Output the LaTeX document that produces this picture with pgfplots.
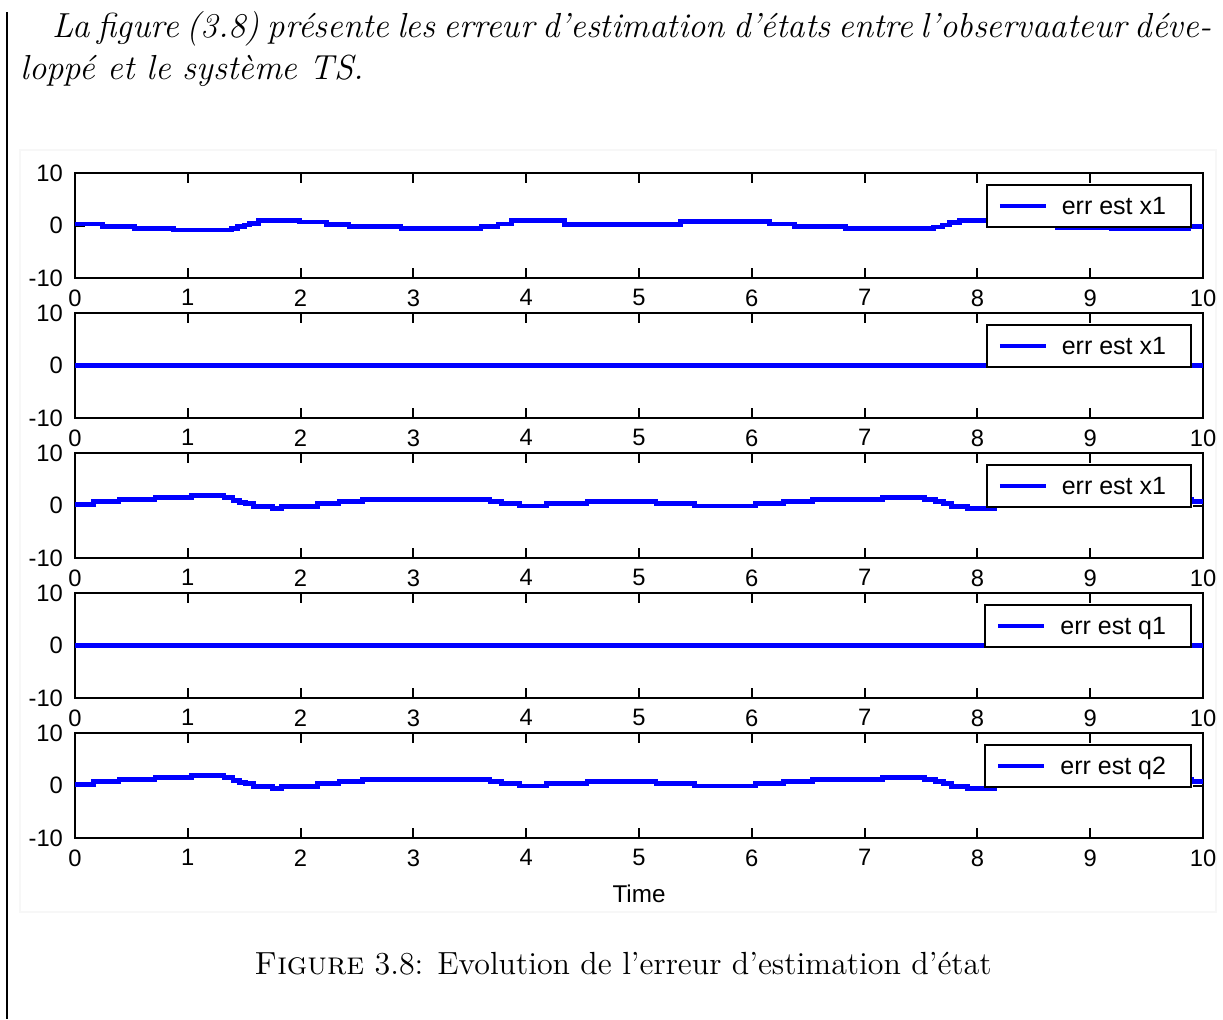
\documentclass[border=0pt]{standalone}
\usepackage{fontspec}
\usepackage{pgfplots}
\usepackage{pgfplotstable}
\pgfplotsset{compat=1.18}
\newfontfamily\mfont{Liberation Sans}

% estimation error, first state (x1)
\pgfplotstableread{
t v
0     0.29
0.245 -0.22
0.53  -0.54
0.874 -0.86
1.39  -0.54
1.44  -0.22
1.50  0.10
1.55  0.41
1.63  0.95
1.99  0.67
2.23  0.22
2.43  -0.22
2.89  -0.54
3.60  -0.16
3.75  0.29
3.87  0.92
4.34  0.13
5.37  0.73
6.16  0.29
6.38  -0.16
6.83  -0.54
7.61  -0.29
7.69  0.10
7.75  0.60
7.84  0.98
8.20  0.67
8.45  0.22
8.71  -0.35
9.19  -0.67
9.87  -0.22
10    -0.22
}\errA

% estimation error, third state
\pgfplotstableread{
t v
0     0.25
0.165 0.78
0.39  1.14
0.71  1.48
1.035 1.90
1.32  1.48
1.40  1.02
1.46  0.63
1.51  0.32
1.58  -0.12
1.75  -0.55
1.83  -0.12
2.15  0.32
2.34  0.78
2.55  1.14
3.68  0.78
3.78  0.32
3.94  -0.10
4.18  0.36
4.54  0.83
5.15  0.36
5.49  -0.10
6.03  0.36
6.28  0.83
6.54  1.14
7.16  1.52
7.53  1.14
7.63  0.76
7.70  0.32
7.77  -0.13
7.91  -0.60
8.15  0.80
8.45  1.14
9.50  1.10
9.90  0.80
10    0.80
}\errC

% estimation error, q2
\pgfplotstableread{
t v
0     0.25
0.165 0.78
0.39  1.14
0.71  1.48
1.035 1.90
1.32  1.48
1.40  1.02
1.46  0.63
1.51  0.32
1.58  -0.12
1.75  -0.55
1.83  -0.12
2.15  0.32
2.34  0.78
2.55  1.14
3.68  0.78
3.78  0.32
3.94  -0.10
4.18  0.36
4.54  0.83
5.15  0.36
5.49  -0.10
6.03  0.36
6.28  0.83
6.54  1.14
7.16  1.52
7.53  1.14
7.63  0.76
7.70  0.32
7.77  -0.13
7.91  -0.60
8.15  0.80
8.45  1.14
9.50  1.10
9.90  0.80
10    0.80
}\errQ

\pgfplotsset{
  errpanel/.style={
    scale only axis, width=451.2pt, height=42pt, anchor=north west,
    xmin=0, xmax=10, ymin=-10, ymax=10,
    xtick={0,1,...,10}, ytick={-10,0,10},
    xticklabels={0,1,2,3,4,5,6,7,8,9,10},
    yticklabels={-10,0,10},
    tick align=inside, major tick length=4pt,
    axis line style={line width=0.8pt},
    tick style={black, line width=0.8pt},
    tick label style={font=\mfont\fontsize{9.5}{11}\selectfont},
    xticklabel style={yshift=-1.1pt},
    yticklabel style={xshift=-1.3pt},
    const plot,
    legend style={
      at={(1,1)}, anchor=north east, xshift=-4.4pt, yshift=-4.4pt,
      draw=black, line width=0.8pt, fill=white,
      inner sep=0pt,
      font=\mfont\fontsize{10}{12}\selectfont,
      nodes={inner sep=0pt, text depth=0pt},
    },
    legend image code/.code={%
      \path[draw=none, fill=none] (0pt,-8.4pt) rectangle (30pt,8.4pt);
      \draw[#1, line width=1.6pt] (5.2pt,0pt) -- (23.6pt,0pt);
    },
  },
  errline/.style={blue, line width=1.9pt},
}

\begin{document}
\begin{tikzpicture}
\useasboundingbox (0,0) rectangle (489.2pt,-407.6pt);

% page margin bar and figure frame
\draw[line width=0.7pt] (2.8pt,-4.8pt) -- (2.8pt,-407.6pt);
\draw[black!3, line width=0.6pt] (8pt,-60pt) rectangle (486.4pt,-364.8pt);

% paragraph
\node[anchor=base west, inner sep=0pt, font=\fontsize{13.9}{16.8}\selectfont\itshape]
  at (20.8pt,-14.8pt)
  {\makebox[462pt][s]{La figure (3.8) présente les erreur d’estimation d’états entre l’observaateur déve-}};
\node[anchor=base west, inner sep=0pt, font=\fontsize{13.9}{16.8}\selectfont\itshape]
  at (8pt,-31.6pt) {loppé et le système TS.};

\begin{axis}[errpanel, at={(30pt,-69.2pt)}]
  \addplot[errline] table[x=t, y=v] {\errA};
  \addlegendentry{err est x1\hspace*{10pt}}
\end{axis}

\begin{axis}[errpanel, at={(30pt,-125.2pt)}]
  \addplot[errline] coordinates {(0,0) (10,0)};
  \addlegendentry{err est x1\hspace*{10pt}}
\end{axis}

\begin{axis}[errpanel, at={(30pt,-181.2pt)}]
  \addplot[errline] table[x=t, y=v] {\errC};
  \addlegendentry{err est x1\hspace*{10pt}}
\end{axis}

\begin{axis}[errpanel, at={(30pt,-237.2pt)}]
  \addplot[errline] coordinates {(0,0) (10,0)};
  \addlegendentry{err est q1\hspace*{10pt}}
\end{axis}

\begin{axis}[errpanel, at={(30pt,-293.2pt)},
  xlabel={Time},
  xlabel style={at={(axis description cs:0.5,0)}, anchor=north, inner sep=0pt,
    yshift=-18.4pt, font=\mfont\fontsize{9.7}{11}\selectfont}]
  \addplot[errline] table[x=t, y=v] {\errQ};
  \addlegendentry{err est q2\hspace*{10pt}}
\end{axis}

% caption
\node[anchor=base, inner sep=0pt, font=\fontsize{12.8}{15.4}\selectfont]
  at (249.2pt,-389.6pt)
  {\textsc{Figure} 3.8: Evolution de l’erreur d’estimation d’état};
\end{tikzpicture}
\end{document}
